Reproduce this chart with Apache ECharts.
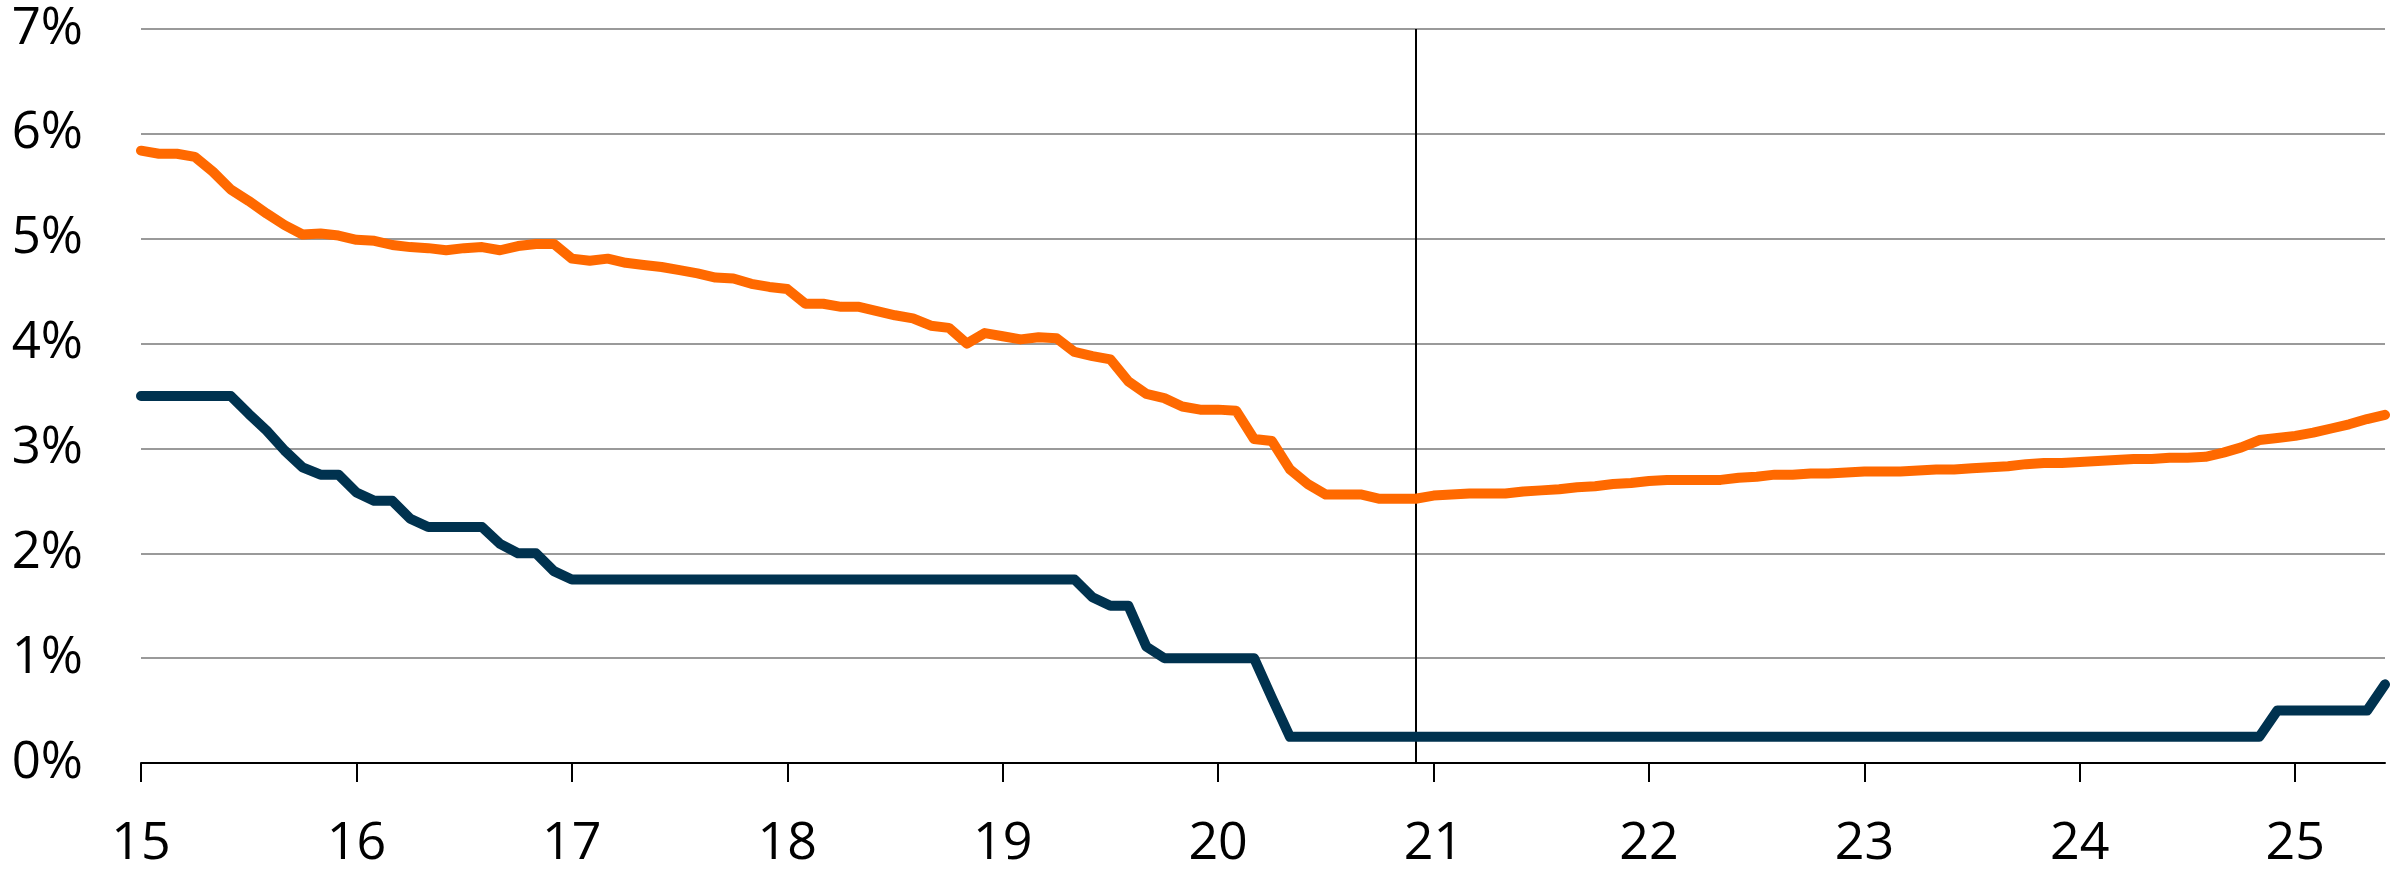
<!DOCTYPE html>
<html>
<head>
<meta charset="utf-8">
<style>
    html, body { margin: 0; padding: 0; background: #fff; }
    #main { width: 2407px; height: 872px; }
</style>
</head>
<body>
<div id="main"></div>
<script src="https://cdn.jsdelivr.net/npm/echarts@6/dist/echarts.min.js"></script>
<script>
    // year labels on the x axis, monthly data from Jan 2015 to Jun 2025
    var years = ['15', '16', '17', '18', '19', '20', '21', '22', '23', '24', '25'];
    var yTicks = [0, 1, 2, 3, 4, 5, 6, 7];

    // orange line (%)
    var orange = [
        5.84, 5.81, 5.81, 5.78, 5.64, 5.47, 5.36, 5.24, 5.13, 5.04, 5.05, 5.03,
        4.99, 4.98, 4.94, 4.92, 4.91, 4.89, 4.91, 4.92, 4.89, 4.93, 4.95, 4.95,
        4.81, 4.79, 4.81, 4.77, 4.75, 4.73, 4.70, 4.67, 4.63, 4.62, 4.57, 4.54,
        4.52, 4.38, 4.38, 4.35, 4.35, 4.31, 4.27, 4.24, 4.17, 4.15, 4.00, 4.10,
        4.07, 4.04, 4.06, 4.05, 3.92, 3.88, 3.85, 3.64, 3.52, 3.48, 3.40, 3.37,
        3.37, 3.36, 3.09, 3.07, 2.80, 2.66, 2.56, 2.56, 2.56, 2.52, 2.52, 2.52,
        2.55, 2.56, 2.57, 2.57, 2.57, 2.59, 2.60, 2.61, 2.63, 2.64, 2.66, 2.67,
        2.69, 2.70, 2.70, 2.70, 2.70, 2.72, 2.73, 2.75, 2.75, 2.76, 2.76, 2.77,
        2.78, 2.78, 2.78, 2.79, 2.80, 2.80, 2.81, 2.82, 2.83, 2.85, 2.86, 2.86,
        2.87, 2.88, 2.89, 2.90, 2.90, 2.91, 2.91, 2.92, 2.96, 3.01, 3.08, 3.10,
        3.12, 3.15, 3.19, 3.23, 3.28, 3.32
    ];

    // dark line (%)
    var navy = [
        3.50, 3.50, 3.50, 3.50, 3.50, 3.50, 3.33, 3.17, 2.98, 2.82, 2.75, 2.75,
        2.58, 2.50, 2.50, 2.33, 2.25, 2.25, 2.25, 2.25, 2.09, 2.00, 2.00, 1.83,
        1.75, 1.75, 1.75, 1.75, 1.75, 1.75, 1.75, 1.75, 1.75, 1.75, 1.75, 1.75,
        1.75, 1.75, 1.75, 1.75, 1.75, 1.75, 1.75, 1.75, 1.75, 1.75, 1.75, 1.75,
        1.75, 1.75, 1.75, 1.75, 1.75, 1.58, 1.50, 1.50, 1.11, 1.00, 1.00, 1.00,
        1.00, 1.00, 1.00, 0.62, 0.25, 0.25, 0.25, 0.25, 0.25, 0.25, 0.25, 0.25,
        0.25, 0.25, 0.25, 0.25, 0.25, 0.25, 0.25, 0.25, 0.25, 0.25, 0.25, 0.25,
        0.25, 0.25, 0.25, 0.25, 0.25, 0.25, 0.25, 0.25, 0.25, 0.25, 0.25, 0.25,
        0.25, 0.25, 0.25, 0.25, 0.25, 0.25, 0.25, 0.25, 0.25, 0.25, 0.25, 0.25,
        0.25, 0.25, 0.25, 0.25, 0.25, 0.25, 0.25, 0.25, 0.25, 0.25, 0.25, 0.50,
        0.50, 0.50, 0.50, 0.50, 0.50, 0.75
    ];

    // vertical marker at Dec 2020
    var markerMonth = '20-12';

    var months = [];
    for (var i = 0; i < orange.length; i++) {
        var y = years[Math.floor(i / 12)];
        var m = (i % 12) + 1;
        months.push(y + '-' + (m < 10 ? '0' + m : m));
    }

    var isYearStart = function (index) {
        return index % 12 === 0;
    };

    var font = '"Open Sans", "Noto Sans", sans-serif';

    var myChart = echarts.init(document.getElementById('main'));
    var option = {
        animation: false,
        backgroundColor: '#ffffff',
        grid: {
            left: 141,
            right: 22,
            top: 29,
            bottom: 109
        },
        xAxis: {
            type: 'category',
            data: months,
            boundaryGap: false,
            axisLine: { lineStyle: { color: '#000', width: 2 } },
            axisTick: {
                interval: isYearStart,
                length: 19,
                lineStyle: { color: '#000', width: 2 }
            },
            axisLabel: {
                interval: isYearStart,
                formatter: function (v) { return v.split('-')[0]; },
                margin: 55,
                color: '#000',
                fontSize: 52,
                fontFamily: font
            },
            splitLine: { show: false }
        },
        yAxis: {
            type: 'value',
            min: yTicks[0],
            max: yTicks[yTicks.length - 1],
            interval: 1,
            axisLine: { show: false },
            axisTick: { show: false },
            axisLabel: {
                formatter: '{value}%',
                margin: 58,
                color: '#000',
                fontSize: 51,
                fontFamily: font
            },
            splitLine: { lineStyle: { color: '#9a9a9a', width: 2 } }
        },
        series: [
            {
                name: 'orange',
                type: 'line',
                data: orange,
                showSymbol: false,
                clip: false,
                lineStyle: { color: '#ff6900', width: 10, cap: 'round', join: 'round' },
                z: 3
            },
            {
                name: 'navy',
                type: 'line',
                data: navy,
                showSymbol: false,
                clip: false,
                lineStyle: { color: '#00324f', width: 10, cap: 'round', join: 'round' },
                z: 3,
                markLine: {
                    silent: true,
                    symbol: 'none',
                    label: { show: false },
                    lineStyle: { color: '#000', width: 2, type: 'solid' },
                    data: [{ xAxis: markerMonth }],
                    z: 1
                }
            }
        ]
    };
    myChart.setOption(option);
</script>
</body>
</html>
